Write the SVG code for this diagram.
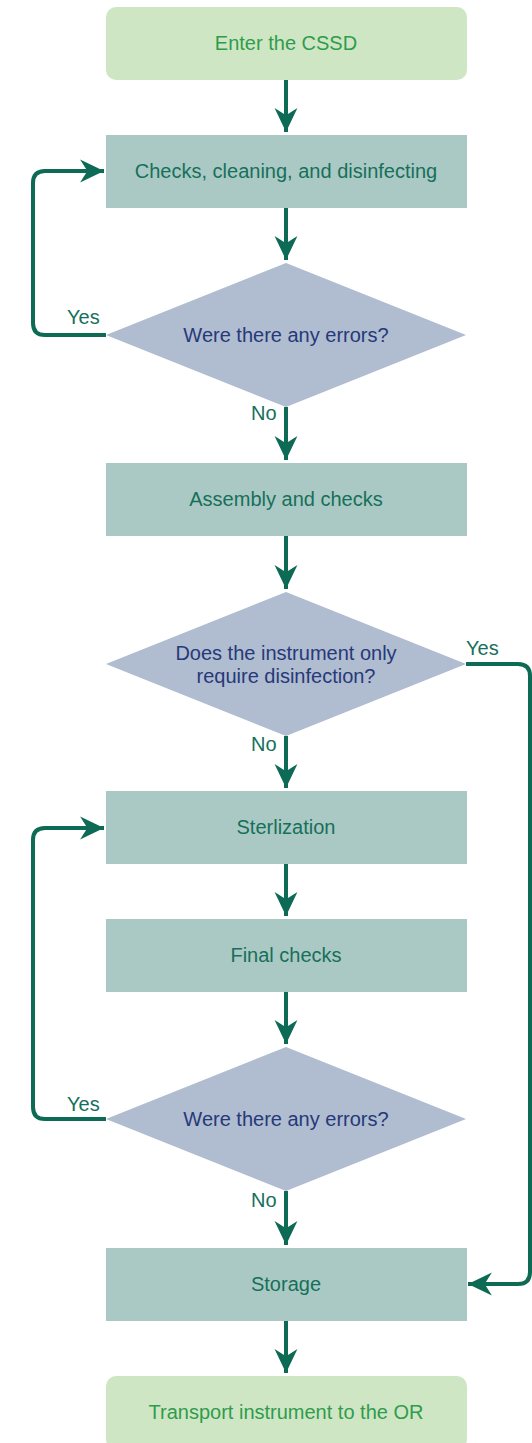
<svg xmlns="http://www.w3.org/2000/svg" width="532" height="1443" viewBox="0 0 532 1443">
<defs>
<marker id="ah" markerUnits="userSpaceOnUse" markerWidth="26" markerHeight="26" viewBox="-23 -12 25 24" refX="0" refY="0" orient="auto">
<path d="M0,0 L-23,-11 L-16,0 L-23,11 Z" fill="#0d6b55"/>
</marker>
<style>
.term{fill:#cfe6c5}
.proc{fill:#abc9c4}
.dec{fill:#b0bccf}
.tt{font-family:"Liberation Sans",Arial,sans-serif;font-size:20px;text-anchor:middle;fill:#2f9c4c}
.tp{font-family:"Liberation Sans",Arial,sans-serif;font-size:20px;text-anchor:middle;fill:#16705a}
.td{font-family:"Liberation Sans",Arial,sans-serif;font-size:20px;text-anchor:middle;fill:#26397a}
.lb{font-family:"Liberation Sans",Arial,sans-serif;font-size:20px;fill:#16705a}
.c{fill:none;stroke:#0d6b55;stroke-width:4}
</style>
</defs>
<rect width="532" height="1443" fill="#ffffff"/>
<g id="n1"><rect class="term" x="106" y="7" width="361" height="73" rx="10"/><text class="tt" x="286" y="50">Enter the CSSD</text></g>
<g id="n2"><rect class="proc" x="106" y="135" width="361" height="73"/><text class="tp" x="286" y="178">Checks, cleaning, and disinfecting</text></g>
<g id="n3"><polygon class="dec" points="286,263 466,335 286,407 106,335"/><text class="td" x="286" y="342">Were there any errors?</text></g>
<g id="n4"><rect class="proc" x="106" y="463" width="361" height="73"/><text class="tp" x="286" y="506">Assembly and checks</text></g>
<g id="n5"><polygon class="dec" points="286,592 466,664 286,736 106,664"/><text class="td" x="286" y="660">Does the instrument only</text><text class="td" x="286" y="683">require disinfection?</text></g>
<g id="n6"><rect class="proc" x="106" y="791" width="361" height="73"/><text class="tp" x="286" y="834">Sterlization</text></g>
<g id="n7"><rect class="proc" x="106" y="919" width="361" height="73"/><text class="tp" x="286" y="962">Final checks</text></g>
<g id="n8"><polygon class="dec" points="286,1047 466,1119 286,1191 106,1119"/><text class="td" x="286" y="1126">Were there any errors?</text></g>
<g id="n9"><rect class="proc" x="106" y="1248" width="361" height="73"/><text class="tp" x="286" y="1291">Storage</text></g>
<g id="n10"><rect class="term" x="106" y="1376" width="361" height="73" rx="10"/><text class="tt" x="286" y="1419">Transport instrument to the OR</text></g>
<g id="connectors">
<path class="c" d="M286,80 V132" marker-end="url(#ah)"/>
<path class="c" d="M286,208 V260" marker-end="url(#ah)"/>
<path class="c" d="M286,407 V460" marker-end="url(#ah)"/>
<path class="c" d="M286,536 V589" marker-end="url(#ah)"/>
<path class="c" d="M286,736 V788" marker-end="url(#ah)"/>
<path class="c" d="M286,864 V916" marker-end="url(#ah)"/>
<path class="c" d="M286,992 V1044" marker-end="url(#ah)"/>
<path class="c" d="M286,1191 V1245" marker-end="url(#ah)"/>
<path class="c" d="M286,1321 V1373" marker-end="url(#ah)"/>
<path class="c" d="M106,335 H45 Q33,335 33,323 V183 Q33,171 45,171 H104" marker-end="url(#ah)"/>
<path class="c" d="M106,1119 H45 Q33,1119 33,1107 V840 Q33,828 45,828 H104" marker-end="url(#ah)"/>
<path class="c" d="M466,664 H518 Q530,664 530,676 V1272 Q530,1284 518,1284 H468" marker-end="url(#ah)"/>
<text class="lb" x="67" y="324">Yes</text>
<text class="lb" x="251" y="420">No</text>
<text class="lb" x="466" y="655">Yes</text>
<text class="lb" x="251" y="751">No</text>
<text class="lb" x="67" y="1111">Yes</text>
<text class="lb" x="251" y="1207">No</text>
</g>
</svg>
